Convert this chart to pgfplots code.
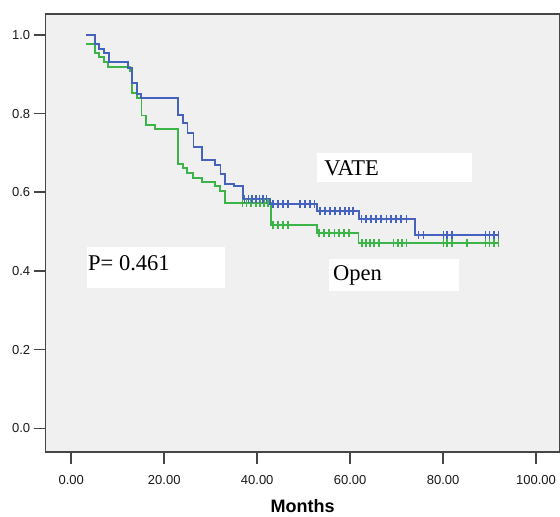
\documentclass[border=0pt]{standalone}
\usepackage{pgfplots}
\pgfplotsset{compat=1.18}
\usepackage{fontspec}
\setmainfont{Liberation Sans}
\newfontfamily\timesfont{Liberation Serif}

\definecolor{kmblue}{RGB}{68,98,190}
\definecolor{kmgreen}{RGB}{60,180,72}
\definecolor{panel}{RGB}{240,240,240}
\definecolor{frame}{RGB}{70,70,70}

\begin{document}
\begin{tikzpicture}
\begin{axis}[
  scale only axis,
  width=513.3pt, height=437.7pt,
  xmin=-5.5, xmax=105,
  ymin=-0.06, ymax=1.053,
  axis background/.style={fill=panel},
  axis line style={frame, line width=1.4pt},
  xtick={0,20,40,60,80,100},
  ytick={0,0.2,0.4,0.6,0.8,1.0},
  xtick pos=left, ytick pos=left,
  tick align=outside,
  major tick length=12pt,
  tick style={frame, line width=1.6pt},
  /pgf/number format/assume math mode=true,
  xticklabel style={yshift=-8pt, /pgf/number format/.cd, fixed, fixed zerofill, precision=2},
  yticklabel style={/pgf/number format/.cd, fixed, fixed zerofill, precision=1},
  ticklabel style={font=\fontsize{13}{15}\selectfont, text=black!90},
  xlabel={Months},
  xlabel style={font=\bfseries\fontsize{18}{20}\selectfont, yshift=-8pt},
  clip=false,
]
% text boxes
\fill[white] (axis cs:52.8,0.625) rectangle (axis cs:86.2,0.699);
\node[anchor=base west, inner sep=0pt, font=\timesfont\fontsize{22.5}{24}\selectfont] at (axis cs:54.4,0.6415) {VATE};
\fill[white] (axis cs:55.5,0.349) rectangle (axis cs:83.5,0.430);
\node[anchor=base west, inner sep=0pt, font=\timesfont\fontsize{22.5}{24}\selectfont] at (axis cs:56.3,0.3745) {Open};
\fill[white] (axis cs:3.4,0.356) rectangle (axis cs:33.1,0.462);
\node[anchor=base west, inner sep=0pt, font=\timesfont\fontsize{22.5}{24}\selectfont] at (axis cs:3.6,0.400) {P= 0.461};

% Open
\addplot[const plot, kmgreen, line width=1.9pt] coordinates {
(3.1,0.976)(5.1,0.953)(6.0,0.943)(7.0,0.932)(7.9,0.919)(12.6,0.907)(13.0,0.853)
(14.1,0.839)(15.1,0.795)(16.1,0.771)(18.0,0.761)(23.0,0.672)(24.0,0.661)(24.8,0.648)
(26.1,0.637)(28.1,0.625)(30.9,0.617)(32.0,0.604)(33.1,0.572)(42.9,0.516)(52.8,0.497)
(61.8,0.470)(91.9,0.470)};
\addplot[only marks, mark=|, mark size=4pt, kmgreen, mark options={line width=1.6pt}] coordinates {
(36.8,0.572)(37.7,0.572)(38.7,0.572)(39.7,0.572)(40.6,0.572)(41.5,0.572)(42.3,0.572)
(43.4,0.516)(44.5,0.516)(45.6,0.516)(46.6,0.516)
(53.3,0.497)(54.4,0.497)(55.5,0.497)(56.6,0.497)(57.6,0.497)(58.7,0.497)(59.8,0.497)
(62.5,0.470)(63.4,0.470)(64.3,0.470)(65.1,0.470)(66.2,0.470)(69.3,0.470)(70.3,0.470)
(71.2,0.470)(72.1,0.470)(80.1,0.470)(80.9,0.470)(81.9,0.470)(85.1,0.470)(89.1,0.470)
(90.0,0.470)(91.0,0.470)(91.9,0.470)};

% VATE
\addplot[const plot, kmblue, line width=1.9pt] coordinates {
(3.1,1.0)(5.1,0.976)(6.0,0.965)(7.0,0.953)(8.2,0.931)(12.2,0.916)(13.1,0.878)
(14.1,0.850)(15.0,0.839)(23.0,0.797)(24.0,0.775)(25.0,0.750)(26.3,0.716)(28.1,0.682)
(30.9,0.669)(32.1,0.647)(33.1,0.621)(35.0,0.615)(37.0,0.582)(42.8,0.570)(52.8,0.553)
(61.9,0.532)(74.0,0.491)(91.9,0.491)};
\addplot[only marks, mark=|, mark size=4pt, kmblue, mark options={line width=1.6pt}] coordinates {
(37.3,0.582)(38.1,0.582)(38.9,0.582)(39.7,0.582)(40.5,0.582)(41.3,0.582)(42.0,0.582)
(43.4,0.570)(44.5,0.570)(45.6,0.570)(46.6,0.570)(49.2,0.570)(50.3,0.570)(51.4,0.570)(52.3,0.570)
(53.5,0.553)(54.6,0.553)(55.7,0.553)(56.8,0.553)(57.8,0.553)(58.9,0.553)(59.8,0.553)(60.6,0.553)
(62.4,0.532)(63.4,0.532)(64.5,0.532)(65.6,0.532)(66.7,0.532)(67.8,0.532)(68.8,0.532)
(69.9,0.532)(71.0,0.532)(72.1,0.532)
(74.7,0.491)(75.8,0.491)(80.1,0.491)(80.9,0.491)(81.9,0.491)(89.1,0.491)(90.0,0.491)
(91.0,0.491)(91.9,0.491)};
\end{axis}
\pgfresetboundingbox
\path (current axis.south west) ++(-45.7pt,-64.3pt) coordinate (bbsw);
\path (current axis.north east) ++(0.7pt,14pt) coordinate (bbne);
\useasboundingbox (bbsw) rectangle (bbne);
\end{tikzpicture}
\end{document}
